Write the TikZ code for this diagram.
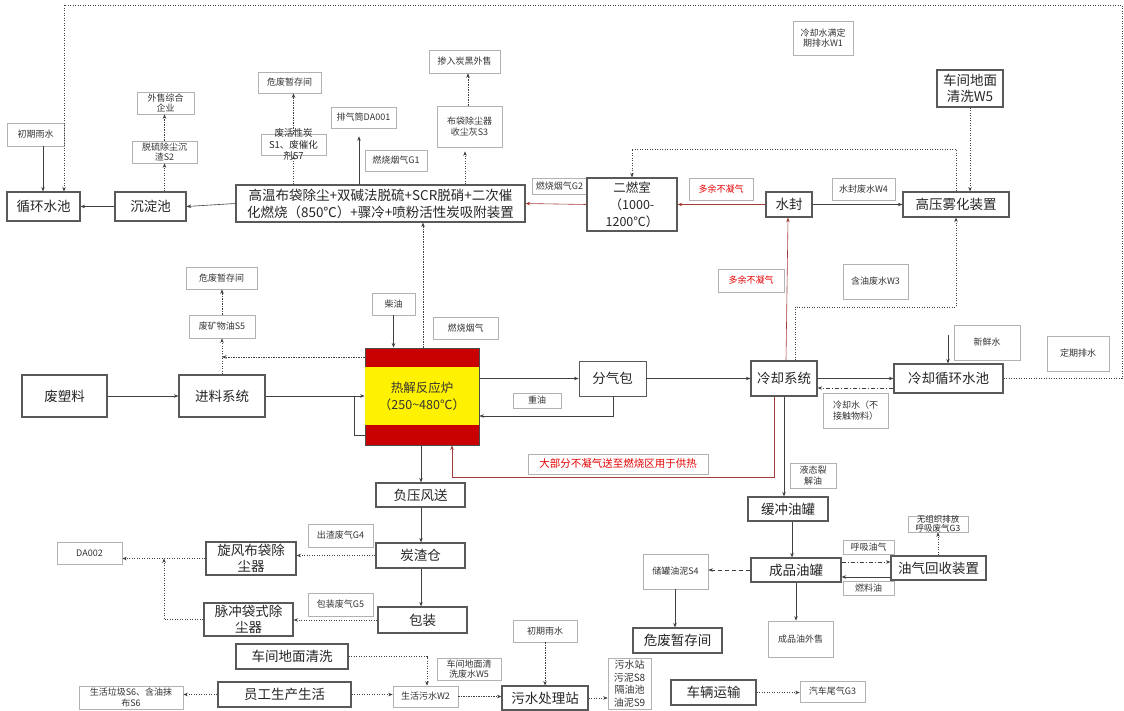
\documentclass[tikz,border=0pt]{standalone}
\usepackage{fontspec}
\setmainfont{Noto Sans CJK SC}
\usetikzlibrary{arrows.meta,calc}
\definecolor{darkredc}{RGB}{165,60,60}
\definecolor{reactred}{RGB}{200,0,0}
\newcommand{\mkbox}[7]{%
  \pgfmathsetmacro\mbw{#5-#3}\pgfmathsetmacro\mbh{#6-#4}%
  \pgfmathsetmacro\mbx{(#3+#5)/2}\pgfmathsetmacro\mby{(#4+#6)/2}%
  \node[#1,minimum width=\mbw pt,minimum height=\mbh pt] (#2) at (\mbx,\mby) {#7};}
\begin{document}
\begin{tikzpicture}[x=1pt,y=-1pt,
  mainbox/.style={draw=black!65, line width=1.2pt, fill=white, inner sep=0.5pt, align=center, font=\fontsize{13.5}{15.5}\selectfont, text=black!85},
  lbl/.style={draw=black!30, line width=0.7pt, fill=white, inner sep=0.5pt, align=center, font=\fontsize{9}{10.5}\selectfont, text=black!80},
  redlbl/.style={lbl, text=red!90!black},
  conn/.style={draw=black!75, line width=0.6pt},
  arw/.style={-{Stealth[length=4.5pt,width=3.5pt]}},
  dotl/.style={dash pattern=on 1.2pt off 1.3pt},
  dashl/.style={dash pattern=on 4pt off 3pt},
  dashdotl/.style={dash pattern=on 4pt off 2pt on 1pt off 2pt},
  redc/.style={draw=darkredc}]
\fill[white] (0,0) rectangle (1124,711);
\useasboundingbox (0,0) rectangle (1124,711);

% ---------- labels drawn under main boxes ----------
\mkbox{lbl}{g2}{532}{178}{587}{194}{燃烧烟气G2}

% ---------- main boxes ----------
\mkbox{mainbox}{pool}{7}{192}{80}{221}{循环水池}
\mkbox{mainbox}{settle}{115}{192}{186}{221}{沉淀池}
\mkbox{mainbox,font=\fontsize{13.5}{17}\selectfont}{hot}{236}{185}{525}{222}{高温布袋除尘+双碱法脱硫+SCR脱硝+二次催\\化燃烧（850℃）+骤冷+喷粉活性炭吸附装置}
\mkbox{mainbox,font=\fontsize{12.5}{17}\selectfont}{sec}{587}{178}{677}{231}{二燃室\\（1000-\\1200℃）}
\mkbox{mainbox}{seal}{766}{192}{812}{217}{水封}
\mkbox{mainbox}{spray}{903}{192}{1009}{217}{高压雾化装置}
\mkbox{mainbox}{w5}{937}{70}{1003}{107}{车间地面\\清洗W5}
\mkbox{mainbox}{cool}{751}{361}{817}{396}{冷却系统}
\mkbox{mainbox}{coolpool}{894}{364}{1003}{393}{冷却循环水池}
\mkbox{mainbox}{plastic}{22}{375}{107}{417}{废塑料}
\mkbox{mainbox}{feed}{179}{375}{265}{417}{进料系统}
\mkbox{mainbox,line width=0.9pt}{gas}{579}{361}{646}{396}{分气包}
\mkbox{mainbox}{fan}{376}{483}{465}{507}{负压风送}
\mkbox{mainbox}{carbonbin}{376}{543}{465}{568}{炭渣仓}
\mkbox{mainbox}{pack}{378}{607}{467}{633}{包装}
\mkbox{mainbox}{cyclone}{206}{542}{296}{575}{旋风布袋除\\尘器}
\mkbox{mainbox}{pulse}{204}{603}{293}{636}{脉冲袋式除\\尘器}
\mkbox{mainbox}{wash}{236}{644}{348}{669}{车间地面清洗}
\mkbox{mainbox}{staff}{218}{682}{351}{707}{员工生产生活}
\mkbox{mainbox}{wwtp}{502}{686}{588}{710}{污水处理站}
\mkbox{mainbox}{buffer}{748}{497}{828}{521}{缓冲油罐}
\mkbox{mainbox}{product}{751}{558}{841}{582}{成品油罐}
\mkbox{mainbox}{vrec}{891}{556}{986}{580}{油气回收装置}
\mkbox{mainbox}{haz3}{633}{628}{722}{653}{危废暂存间}
\mkbox{mainbox}{truck}{671}{680}{756}{705}{车辆运输}

% reactor
\mkbox{draw=black!70,line width=0.8pt,fill=reactred,inner sep=0pt}{reactor}{365}{348}{479}{445}{}
\fill[yellow] ($(reactor.west |- 0,367)+(0.4,0)$) rectangle ($(reactor.east |- 0,425)+(-0.4,0)$);
\node[font=\fontsize{12.5}{17}\selectfont, text=black!80, align=center] (reactortxt) at (reactor.center) {热解反应炉\\（250\textasciitilde480℃）};

% ---------- labels ----------
\mkbox{lbl}{rain1}{7}{123}{64}{146}{初期雨水}
\mkbox{lbl}{sell1}{137}{92}{194}{114}{外售综合\\企业}
\mkbox{lbl}{s2}{132}{141}{197}{163}{脱硫除尘沉\\渣S2}
\mkbox{lbl}{haz1}{258}{72}{321}{93}{危废暂存间}
\mkbox{lbl}{s1}{261}{134}{326}{155}{}
\node[font=\fontsize{9.5}{11.5}\selectfont, text=black!85, align=center] (s1t) at (s1.center) {废活性炭\\S1、废催化\\剂S7};
\mkbox{lbl}{stack}{331}{107}{396}{128}{排气筒DA001}
\mkbox{lbl}{g1}{365}{150}{427}{171}{燃烧烟气G1}
\mkbox{lbl}{s3}{437}{106}{502}{147}{布袋除尘器\\收尘灰S3}
\mkbox{lbl}{carbon}{429}{50}{500}{73}{掺入炭黑外售}
\mkbox{lbl}{w1}{793}{21}{853}{55}{冷却水满定\\期排水W1}
\mkbox{redlbl}{nc1}{689}{178}{753}{200}{多余不凝气}
\mkbox{lbl}{w4}{832}{178}{895}{200}{水封废水W4}
\mkbox{lbl}{w3}{843}{264}{908}{299}{含油废水W3}
\mkbox{redlbl}{nc2}{718}{269}{784}{292}{多余不凝气}
\mkbox{lbl}{fresh}{954}{325}{1020}{360}{新鲜水}
\mkbox{lbl}{dis}{1047}{336}{1109}{371}{定期排水}
\mkbox{lbl}{cw}{823}{393}{888}{428}{冷却水（不\\接触物料）}
\mkbox{lbl}{liq}{790}{463}{836}{488}{液态裂\\解油}
\mkbox{lbl}{haz2}{186}{267}{257}{289}{危废暂存间}
\mkbox{lbl}{s5}{189}{315}{255}{338}{废矿物油S5}
\mkbox{lbl}{diesel}{372}{293}{415}{315}{柴油}
\mkbox{lbl}{fg}{433}{317}{498}{339}{燃烧烟气}
\mkbox{lbl}{heavy}{513}{393}{561}{408}{重油}
\mkbox{redlbl,font=\fontsize{10.5}{12}\selectfont}{big}{528}{454}{708}{474}{大部分不凝气送至燃烧区用于供热}
\mkbox{lbl}{g4}{308}{524}{373}{547}{出渣废气G4}
\mkbox{lbl}{g5}{308}{593}{373}{616}{包装废气G5}
\mkbox{lbl}{da2}{57}{542}{122}{564}{DA002}
\mkbox{lbl}{trash}{79}{686}{183}{709}{生活垃圾S6、含油抹\\布S6}
\mkbox{lbl}{sewage}{393}{686}{458}{707}{生活污水W2}
\mkbox{lbl}{w5b}{437}{658}{501}{680}{车间地面清\\洗废水W5}
\mkbox{lbl}{rain2}{513}{620}{577}{642}{初期雨水}
\mkbox{lbl,font=\fontsize{10}{12.5}\selectfont}{sludge}{608}{658}{651}{709}{污水站\\污泥S8\\隔油池\\油泥S9}
\mkbox{lbl}{s4}{643}{554}{708}{589}{储罐油泥S4}
\mkbox{lbl}{sellOil}{768}{621}{833}{657}{成品油外售}
\mkbox{lbl}{breath}{843}{540}{894}{554}{呼吸油气}
\mkbox{lbl}{fuel}{843}{581}{894}{595}{燃料油}
\mkbox{lbl}{g3}{908}{516}{968}{532}{}
\node[font=\fontsize{8.5}{9.5}\selectfont, text=black!85, align=center] (g3t) at (g3.center) {无组织排放\\呼吸废气G3};
\mkbox{lbl}{exhaust}{800}{681}{865}{702}{汽车尾气G3}

\coordinate (freshsrc) at (948,335);

% ---------- connectors ----------
\draw[conn,arw] (rain1.south -| 43,0) -- (pool.north -| 43,0);
\draw[conn,arw,dotl] (coolpool.east) -- (1122,378.5) |- (64,5) -- (pool.north -| 64,0);
\draw[conn,arw] (settle.west) -- (pool.east);
\draw[conn,arw] (hot.west) -- (settle.east);
\draw[conn,arw,dotl] (settle.north -| s2.south) -- (s2.south);
\draw[conn,arw,dotl] (s2.north) -- (sell1.south -| s2.north);
\draw[conn,arw,dotl] (hot.north -| s1.south) -- (s1.south);
\draw[conn,arw,dotl] (s1.north) -- (haz1.south -| s1.north);
\draw[conn,arw,shorten >=8pt] (hot.north -| 359,0) -- (stack.south -| 359,0);
\draw[conn,arw,dotl,shorten >=4pt] (hot.north -| 465,0) -- (s3.south -| 465,0);
\draw[conn,arw,dotl] (s3.north -| 468,0) -- (carbon.south -| 468,0);
\draw[conn,redc,arw] (sec.west) -- (hot.east);
\draw[conn,redc,arw] (seal.west) -- (sec.east);
\draw[conn,redc,arw] (cool.north -| 786,0) -- (seal.south -| 788,0);
\draw[conn,arw] (seal.east) -- (spray.west);
\draw[conn,arw,dotl] (spray.north -| 956,0) |- (632,149) -- (sec.north -| 632,0);
\draw[conn,arw,dotl] (w5.south) -- (spray.north -| w5.south);
\draw[conn,arw,dotl] (cool.north -| 795,0) |- (956,307) -- (spray.south -| 956,0);
\draw[conn,arw] (freshsrc) -- (coolpool.north -| freshsrc);
\draw[conn,arw] (cool.east) -- (coolpool.west);
\draw[conn,arw,dashdotl] (coolpool.west |- 0,388) -- (cool.east |- 0,388);
\draw[conn,redc,arw] (cool.south -| 774,0) |- (452,477) -- (reactor.south -| 452,0);
\draw[conn,arw] (cool.south -| 784,0) -- (buffer.north -| 784,0);
\draw[conn,arw] (diesel.south) -- (reactor.north -| diesel.south);
\draw[conn,arw,dotl] (reactor.north -| 423,0) -- (hot.south -| 423,0);
\draw[conn,arw,dotl] (reactor.west |- 0,357) -- (feed.north |- 0,357);
\draw[conn,arw,dotl] (feed.north) -- (s5.south -| feed.north);
\draw[conn,arw,dotl] (s5.north) -- (haz2.south -| s5.north);
\draw[conn,arw] (plastic.east) -- (feed.west);
\draw[conn,arw] (feed.east) -- (reactor.west |- feed.east);
\draw[conn] (354,396) |- (reactor.west |- 0,435);
\draw[conn,arw] (reactor.east |- 0,378.5) -- (gas.west);
\draw[conn,arw] (gas.east) -- (cool.west);
\draw[conn,arw] (gas.south -| 613,0) |- (reactor.east |- 0,416);
\draw[conn,arw] (reactor.south -| 421,0) -- (fan.north -| 421,0);
\draw[conn,arw] (fan.south -| 421,0) -- (carbonbin.north -| 421,0);
\draw[conn,arw] (carbonbin.south -| 421,0) -- (pack.north -| 421,0);
\draw[conn,arw,dotl] (carbonbin.west) -- (cyclone.east |- carbonbin.west);
\draw[conn,arw,dotl] (pack.west) -- (pulse.east |- pack.west);
\draw[conn,arw,dotl] (cyclone.west) -- (da2.east |- cyclone.west);
\draw[conn,arw,dotl] (pulse.west) -| (164,558.5);
\draw[conn,arw,dotl] (wash.east) -| (sewage.north -| 427,0);
\draw[conn,arw,dotl] (staff.west) -- (trash.east |- staff.west);
\draw[conn,arw,dotl] (staff.east) -- (sewage.west |- staff.east);
\draw[conn,arw,dotl] (sewage.east) -- (wwtp.west |- sewage.east);
\draw[conn,arw,dotl] (rain2.south) -- (wwtp.north -| rain2.south);
\draw[conn,arw,dotl] (wwtp.east) -- (sludge.west |- wwtp.east);
\draw[conn,arw] (buffer.south -| 792,0) -- (product.north -| 792,0);
\draw[conn,arw,dashl] (product.west |- 0,570) -- (s4.east |- 0,570);
\draw[conn,arw] (s4.south -| 675,0) -- (haz3.north -| 675,0);
\draw[conn,arw] (product.south -| 796,0) -- (sellOil.north -| 796,0);
\draw[conn,arw,dashdotl] (product.east |- 0,562) -- (vrec.west |- 0,562);
\draw[conn,arw] (vrec.west |- 0,577) -- (product.east |- 0,577);
\draw[conn,arw,dotl] (vrec.north -| 938,0) -- (g3.south -| 938,0);
\draw[conn,arw,dotl] (truck.east) -- (exhaust.west |- truck.east);
\end{tikzpicture}
\end{document}
